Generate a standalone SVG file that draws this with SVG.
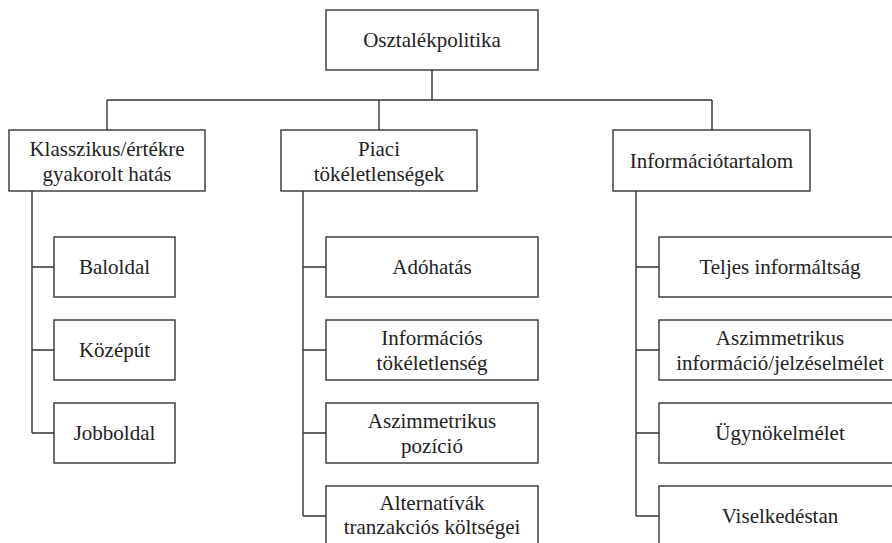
<svg xmlns="http://www.w3.org/2000/svg" width="892" height="543" viewBox="0 0 892 543">
<style>
rect{fill:#fff;stroke:#333;stroke-width:1.4}
.c path{fill:none;stroke:#333;stroke-width:1.4}
text{font-family:"Liberation Serif","Times New Roman",Times,"Nimbus Roman","Nimbus Roman No9 L","Noto Serif","DejaVu Serif",FreeSerif,Tinos,Georgia,serif;font-size:21px;fill:#222;text-anchor:middle}
</style>
<rect x="0" y="0" width="892" height="543" style="stroke:none"/>
<g class="c" id="connectors">
<path d="M432 70V100M107 100H712M107 100V130M379 100V130M712 100V130"/>
<path d="M32 191V433M32 267H54M32 350H54M32 433H54"/>
<path d="M303 191V516M303 267H326M303 350H326M303 433H326M303 516H326"/>
<path d="M636 191V516M636 267H659M636 350H659M636 433H659M636 516H659"/>
</g>
<g id="n0"><rect x="326" y="10" width="212" height="60"/><text x="432" y="47">Osztalékpolitika</text></g>
<g id="n1"><rect x="9" y="130" width="196" height="61"/><text x="107" y="156">Klasszikus/értékre</text><text x="107" y="181">gyakorolt hatás</text></g>
<g id="n2"><rect x="281" y="130" width="196" height="61"/><text x="379" y="156">Piaci</text><text x="379" y="181">tökéletlenségek</text></g>
<g id="n3"><rect x="613" y="130" width="197" height="61"/><text x="711.5" y="168">Információtartalom</text></g>
<g id="n4"><rect x="54" y="237" width="121" height="60"/><text x="114.5" y="274">Baloldal</text></g>
<g id="n5"><rect x="54" y="320" width="121" height="60"/><text x="114.5" y="357">Középút</text></g>
<g id="n6"><rect x="54" y="403" width="121" height="60"/><text x="114.5" y="440">Jobboldal</text></g>
<g id="n7"><rect x="326" y="237" width="212" height="60"/><text x="432" y="274">Adóhatás</text></g>
<g id="n8"><rect x="326" y="320" width="212" height="60"/><text x="432" y="345">Információs</text><text x="432" y="370">tökéletlenség</text></g>
<g id="n9"><rect x="326" y="403" width="212" height="60"/><text x="432" y="428">Aszimmetrikus</text><text x="432" y="453">pozíció</text></g>
<g id="n10"><rect x="326" y="486" width="212" height="62"/><text x="432" y="510">Alternatívák</text><text x="432" y="534">tranzakciós költségei</text></g>
<g id="n11"><rect x="659" y="237" width="242" height="60"/><text x="780" y="274">Teljes informáltság</text></g>
<g id="n12"><rect x="659" y="320" width="242" height="60"/><text x="780" y="345">Aszimmetrikus</text><text x="780" y="370">információ/jelzéselmélet</text></g>
<g id="n13"><rect x="659" y="403" width="242" height="60"/><text x="780" y="440">Ügynökelmélet</text></g>
<g id="n14"><rect x="659" y="486" width="242" height="62"/><text x="780" y="523">Viselkedéstan</text></g>
</svg>
